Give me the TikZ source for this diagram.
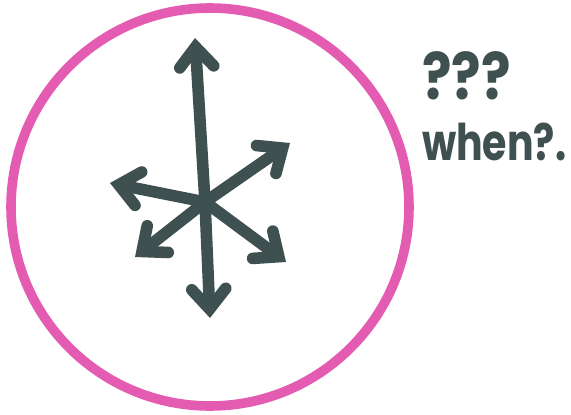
\documentclass[tikz,border=0pt]{standalone}
\usepackage{fontspec}
\newfontfamily\scribble{Poppins}[UprightFont=* Bold]
\usepackage{xcolor}
\definecolor{marker}{RGB}{62, 80, 80}
\definecolor{rim}{RGB}{228, 92, 178}
\usetikzlibrary{arrows.meta,positioning}

\begin{document}
\begin{tikzpicture}[
  x=0.05cm, y=-0.05cm,
  ring/.style={draw=rim, circle, line width=0.48cm, minimum size=19.9cm, inner sep=0pt},
  spoke/.style={-{Straight Barb[length=1cm, width=1.7cm, line cap=round]}, line width=0.58cm, color=marker, line cap=round},
  scrawl/.style={font=\scribble\fontsize{72}{72}\selectfont, color=marker, inner sep=0pt, anchor=west}
]
\useasboundingbox (0,0) rectangle (571,414);
\node[ring] (clock) at (210,207) {};
\coordinate (hub) at (205,202);

\coordinate (up) at (195,38);
\coordinate (ne) at (290,143);
\coordinate (wl) at (110,183);
\coordinate (sw) at (135,257);
\coordinate (dn) at (210,318);
\coordinate (se) at (286,262);

\foreach \tip in {up,ne,wl,sw,dn,se}
  \draw[spoke] (hub) -- (\tip);

\node[scrawl, font=\scribble\fontsize{92}{92}\selectfont] (qq) at (422,76) {\scalebox{0.85}[1]{???}};
\node[scrawl] (when) at (422,142) {\scalebox{0.78}[1]{when?.}};
\end{tikzpicture}
\end{document}
